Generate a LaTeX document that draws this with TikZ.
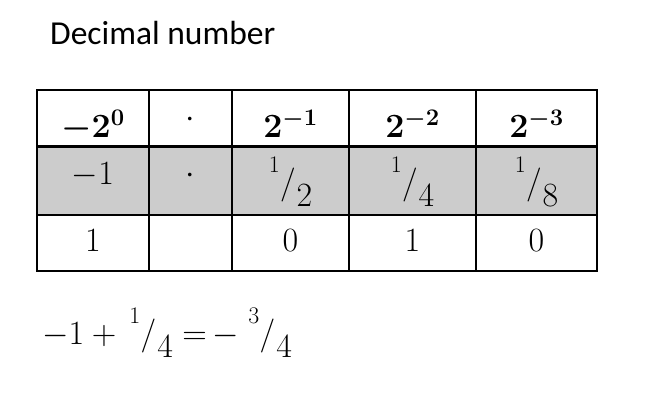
\RequirePackage{fix-cm}
\documentclass[tikz,border=0pt]{standalone}
\usepackage{amsmath}
\usepackage{amsbsy}
\usepackage{fontspec}
\setmainfont{Carlito}
\definecolor{cellgrey}{HTML}{CCCCCC}
\newcommand{\skfrac}[2]{\raisebox{-0.38em}{\raisebox{1em}{$\scriptstyle #1$}\kern0.01em\raisebox{0.4em}{$/$}\kern0.03em$#2$}}

\begin{document}
\begin{tikzpicture}[x=1pt, y=1pt,
  digit/.style={inner sep=0pt, anchor=base, font=\fontsize{34}{41}\selectfont}]
\useasboundingbox (0,0) rectangle (648,404);

\node[inner sep=0pt, anchor=base west, font=\fontsize{33.5}{40}\selectfont] (title) at (50,359) {Decimal number};

\fill[cellgrey] (37,257) rectangle (597,189);
\draw[line width=1.5pt] (37,133) rectangle (597,314);
\draw[line width=3pt] (37,257) -- (597,257);
\draw[line width=1.5pt] (37,189) -- (597,189);
\foreach \x in {149,232,349,476}
  \draw[line width=1.5pt] (\x,133) -- (\x,314);

\node[digit] (h0) at (93,266) {$\boldsymbol{-2^{0}}$};
\node[digit] (hdot) at (190,276.5) {$\cdot$};
\node[digit] (h1) at (290.5,266) {$\boldsymbol{2^{-1}}$};
\node[digit] (h2) at (412.5,266) {$\boldsymbol{2^{-2}}$};
\node[digit] (h3) at (536.5,266) {$\boldsymbol{2^{-3}}$};

\node[digit] (w0) at (93,219) {$-1$};
\node[digit] (wdot) at (190,220.5) {$\cdot$};
\node[digit] (w1) at (290.5,210) {$\skfrac{1}{2}$};
\node[digit] (w2) at (412.5,210) {$\skfrac{1}{4}$};
\node[digit] (w3) at (536.5,210) {$\skfrac{1}{8}$};

\node[digit] (b0) at (93,152) {$1$};
\node[digit] (b1) at (290.5,152) {$0$};
\node[digit] (b2) at (412.5,152) {$1$};
\node[digit] (b3) at (536.5,152) {$0$};

\node[inner sep=0pt, anchor=base west, font=\fontsize{34}{41}\selectfont] (sum) at (42,59)
  {$-1+\,\skfrac{1}{4}=\mkern-2mu-\;\skfrac{3}{4}$};
\end{tikzpicture}
\end{document}
